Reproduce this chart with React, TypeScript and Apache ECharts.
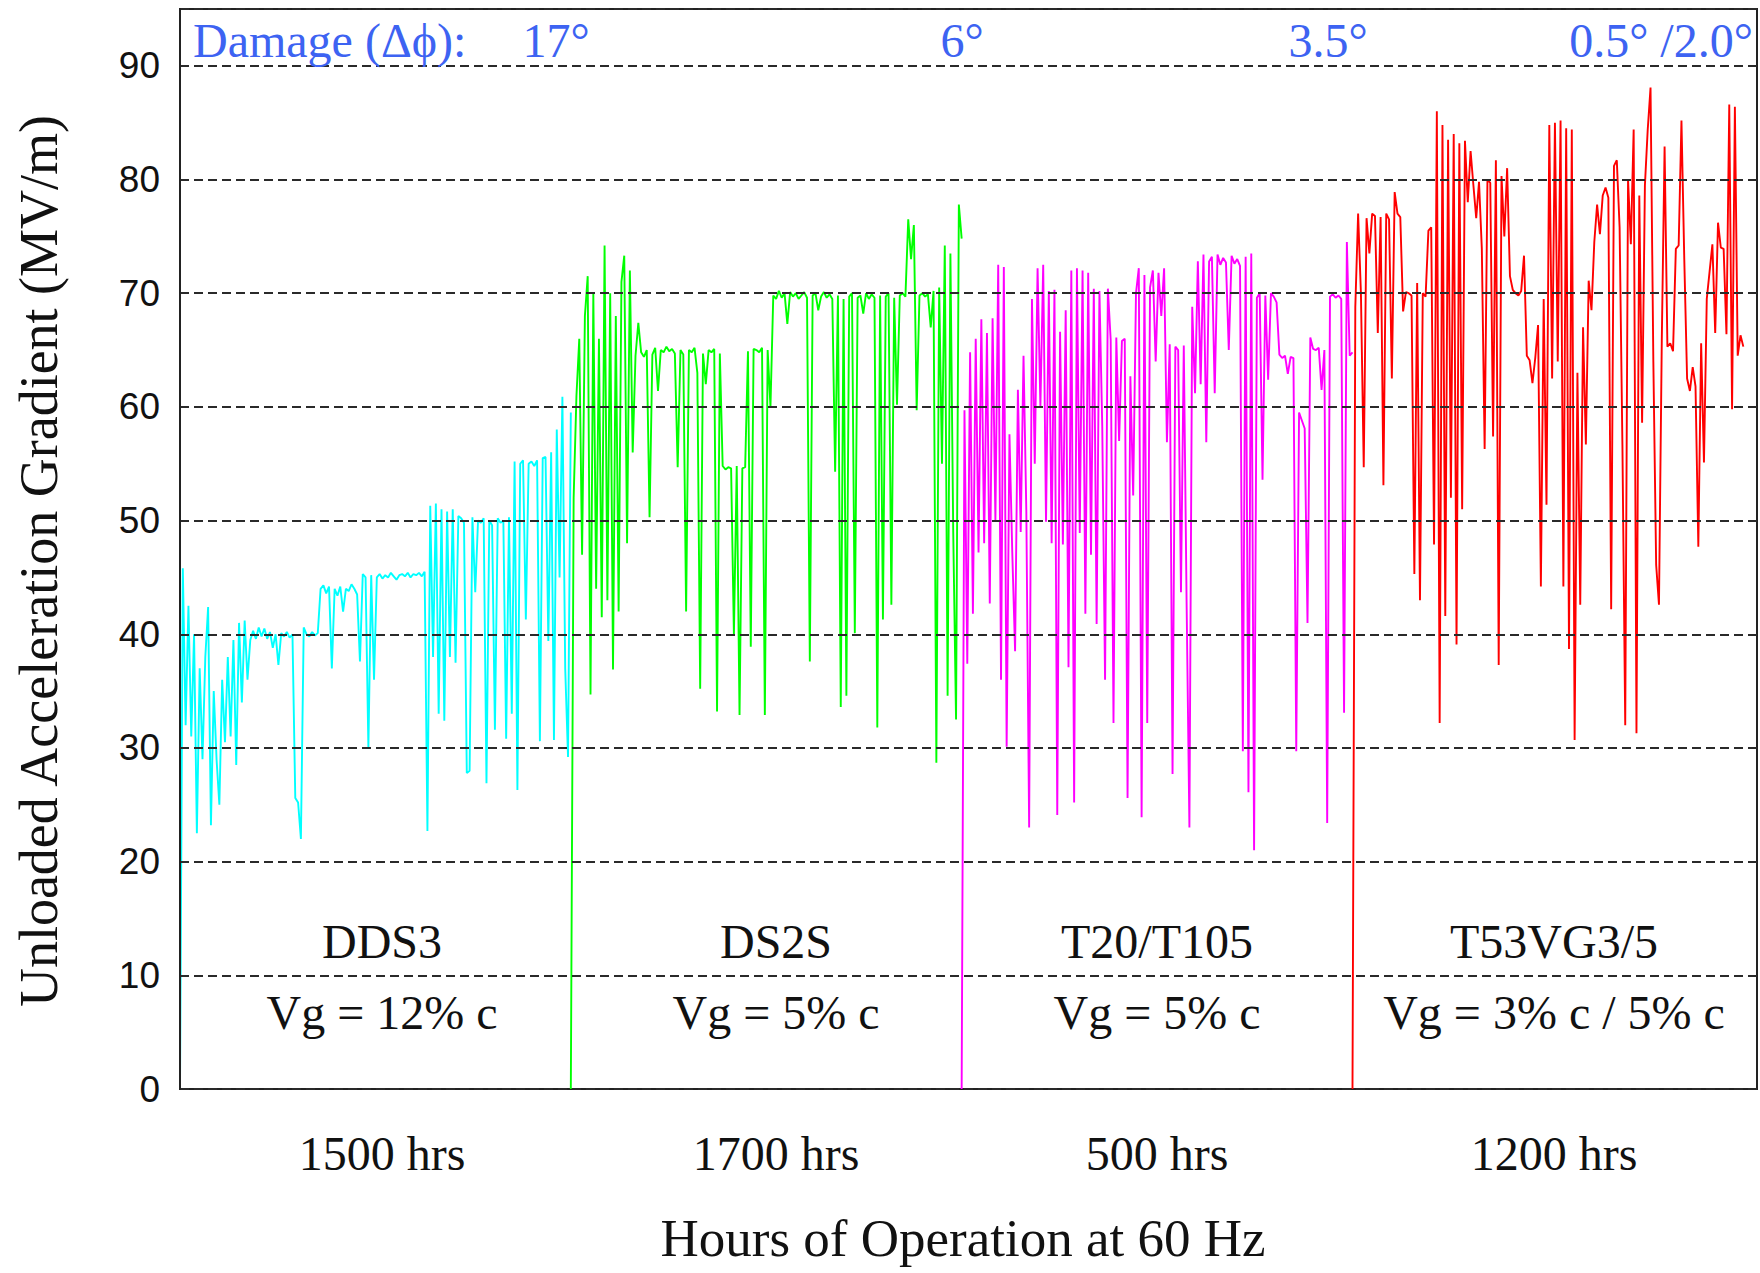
import React, { useEffect, useRef } from "react";
import * as echarts from "echarts";

// Unloaded gradient history, one sample per equal time step in each structure's run.
const DDS3_GRADIENT = [
  0, 45.8, 32, 42.5, 31, 40, 22.5, 37, 29, 38,
  42.4, 23.2, 35, 29, 25, 36, 30.5, 38, 31, 39.5,
  28.5, 41, 34, 41.2, 36, 39.5, 40.3, 39.6, 40.6, 39.8,
  40.5, 39.6, 40.2, 38.8, 40, 37.3, 40.1, 39.8, 40.2, 39.7,
  40, 25.6, 25.2, 22, 40.6, 40, 39.8, 40.2, 39.9, 40.1,
  44, 44.3, 43.6, 44.2, 37, 44, 43.4, 44.2, 42, 44,
  43.8, 44.4, 44, 43.5, 37.6, 45.3, 45, 30, 45.2, 36,
  45, 45.3, 44.9, 45.2, 45, 45.4, 45.1, 44.8, 45.2, 45.3,
  45.1, 45.4, 45, 45.3, 45.2, 45.4, 45.1, 45.5, 22.7, 51.3,
  38, 51.5, 33, 51, 32.4, 50.8, 38, 51, 37.5, 50.4,
  50.2, 49.8, 27.8, 28, 50.3, 43.7, 50, 49.8, 50.2, 26.9,
  50, 49.6, 31.6, 50.2, 49.8, 50, 30.8, 50.3, 33, 55.2,
  26.3, 55, 55.3, 41.3, 55, 55.2, 54.8, 55.3, 30.6, 55.5,
  55.6, 39.4, 56, 30.7, 58, 45, 60.9, 37, 29.2, 59.5,
];

const DS2S_GRADIENT = [
  0, 52, 61, 66, 47, 68, 71.5, 34.7, 70, 44,
  66, 41.5, 74.2, 43, 70, 36.9, 68, 42, 71, 73.3,
  48, 72, 56, 64.5, 67.4, 64.8, 64.4, 65, 50.3, 64.6,
  65.2, 61.4, 65, 64.8, 65.3, 64.9, 65.1, 64.7, 54.7, 65,
  64.6, 42, 65, 64.8, 65.2, 63, 35.2, 64.7, 62, 65,
  64.8, 65.1, 33.2, 64.7, 54.8, 54.5, 54.7, 54.6, 40, 54.8,
  32.9, 54.6, 54.7, 64.9, 38.9, 65.1, 65, 64.8, 65.2, 32.9,
  65, 60, 69.8, 69.5, 70.2, 69.6, 70, 67.3, 70.1, 69.7,
  70, 69.5, 69.8, 70.1, 69.6, 37.6, 69.8, 70, 68.5, 69.7,
  70.1, 69.6, 69.9, 69.5, 54.3, 69.8, 33.6, 69.5, 34.6, 69.7,
  70, 40.1, 69.6, 69.8, 68.2, 70, 69.5, 69.9, 69.6, 31.8,
  69.8, 41.3, 69.7, 70, 42.6, 69.6, 60.2, 69.8, 70, 69.7,
  76.5, 73, 76, 59.7, 69.8, 70, 69.7, 69.9, 67, 70.2,
  28.7, 70.5, 55, 74.2, 34.6, 73.5, 49, 32.5, 77.8, 74.8,
];

const T20_T105_GRADIENT = [
  0, 59.7, 37.4, 64.8, 41.8, 66, 47.2, 67.7, 48, 66.5,
  42.7, 67.8, 50, 72.5, 36, 72.3, 30.1, 57.6, 47.2, 38.5,
  61.5, 49, 64.5, 50.8, 23, 69.5, 55, 72.2, 60, 72.5,
  49.9, 70.2, 48, 70.3, 24.1, 66.6, 47.9, 68.5, 37.1, 72,
  25.2, 72.2, 48.9, 72, 41.8, 71.8, 47, 70.4, 40.9, 70.2,
  58.3, 36, 70.4, 65.9, 32.2, 66.1, 57, 65.8, 66, 25.6,
  62.7, 52.2, 70, 72.2, 23.9, 71.6, 32.2, 70.5, 72, 64,
  71.8, 68, 72.2, 56.9, 65.5, 27.7, 65.3, 65, 43.7, 65.4,
  42.8, 23, 68.8, 61.2, 72.8, 62, 73.4, 56.9, 72.8, 73.2,
  61.2, 73.4, 72.5, 73.1, 72.7, 65, 73.3, 72.6, 73, 72.4,
  29.7, 73.2, 26.1, 73.5, 21, 69.6, 70, 53.6, 69.8, 62.4,
  70, 69.7, 69.2, 64.6, 64.3, 64.5, 62.9, 64.4, 64.3, 29.7,
  59.5, 58.8, 58.1, 41, 66.1, 65.1, 65, 65.2, 61.5, 65,
  23.4, 69.7, 69.9, 69.6, 69.8, 69.5, 33.1, 74.5, 64.5, 64.8,
];

const T53VG3_5_GRADIENT = [
  0, 68.8, 77, 70, 54.7, 76.6, 73.5, 77, 76.8, 66.5,
  76.7, 53.1, 77, 76.5, 62.5, 78.9, 77, 76.7, 68.4, 70.1,
  70, 69.8, 45.3, 70.9, 43, 70, 69.7, 75.5, 75.8, 47.9,
  86, 32.2, 84.8, 41.6, 83.5, 52, 84, 39.1, 83.2, 51,
  83.4, 78, 82.5, 79.5, 76.6, 79.8, 73.9, 56.3, 80, 79.7,
  57.4, 81.7, 37.3, 80.3, 75, 81, 71.5, 70.3, 70, 69.8,
  70.2, 73.3, 64.5, 64.1, 62.1, 64.3, 67.2, 44.2, 69.5, 51.4,
  84.8, 62.5, 85, 64, 85.2, 44.2, 84.5, 38.7, 84.4, 30.7,
  63, 42.6, 67, 56.7, 71.1, 68.5, 74.5, 77.8, 75.2, 78.6,
  79.3, 78.4, 42.2, 81.2, 81.7, 75.8, 56.7, 32, 80, 74.3,
  84.4, 31.3, 78.6, 58.6, 79.5, 84.4, 88.1, 64, 46.1, 42.6,
  65.8, 82.9, 65.3, 65.6, 64.9, 73.9, 74.2, 85.2, 73, 62.5,
  61.4, 63.5, 61.8, 47.7, 65.6, 55.1, 69.5, 71.9, 74.3, 66.5,
  76.2, 74, 73.9, 66.4, 86.6, 59.8, 86.4, 64.5, 66.3, 65.3,
];

const STRUCTURES = ["DDS3", "DS2S", "T20/T105", "T53VG3/5"];
const GROUP_VELOCITIES = ["Vg = 12% c", "Vg = 5% c", "Vg = 5% c", "Vg = 3% c / 5% c"];
const HOURS_RUN = ["1500 hrs", "1700 hrs", "500 hrs", "1200 hrs"];
const DAMAGE_PHASE = ["17°", "6°", "3.5°", "0.5° /2.0°"];
const TRACE_COLORS = ["#00ffff", "#00ff00", "#ff00ff", "#ff0000"];

const SERIF = '"Liberation Serif", "Times New Roman", serif';
const SANS = '"Liberation Sans", Arial, sans-serif';
const BLUE = "#3d63f2";
const INK = "#111111";

// Each structure's run occupies one unit of the x axis.
function runPoints(values: number[], start: number): number[][] {
  const last = values.length - 1;
  return values.map((v, i) => [start + i / last, v]);
}

function centeredText(x: number, y: number, text: string, size: number, fill = INK, font = SERIF) {
  return {
    type: "text",
    x,
    y,
    silent: true,
    z: 10,
    style: {
      text,
      fill,
      font: `${size}px ${font}`,
      textAlign: "center",
      textVerticalAlign: "middle",
    },
  };
}

export default function App() {
  const ref = useRef<HTMLDivElement>(null);

  useEffect(() => {
    document.body.style.margin = "0";
    if (!ref.current) return;
    const chart = echarts.init(ref.current, undefined, { renderer: "svg" });

    const runs = [DDS3_GRADIENT, DS2S_GRADIENT, T20_T105_GRADIENT, T53VG3_5_GRADIENT];
    const sectionX = [382, 776, 1157, 1554];
    const damageX = [556, 962, 1328, 1661];

    const graphic: any[] = [];
    STRUCTURES.forEach((name, k) => {
      graphic.push(centeredText(sectionX[k], 941, name, 48));
      graphic.push(centeredText(sectionX[k], 1012, GROUP_VELOCITIES[k], 48));
      graphic.push(centeredText(sectionX[k], 1153, HOURS_RUN[k], 48));
      graphic.push(centeredText(damageX[k], 40, DAMAGE_PHASE[k], 48, BLUE));
    });
    graphic.push({
      type: "text",
      x: 193,
      y: 40,
      silent: true,
      z: 10,
      style: {
        text: "Damage (Δϕ):",
        fill: BLUE,
        font: `48px ${SERIF}`,
        textAlign: "left",
        textVerticalAlign: "middle",
      },
    });
    graphic.push(centeredText(963, 1238, "Hours of Operation at 60 Hz", 53));
    graphic.push({
      type: "text",
      x: 39,
      y: 561,
      rotation: Math.PI / 2,
      silent: true,
      z: 10,
      style: {
        text: "Unloaded Acceleration Gradient (MV/m)",
        fill: INK,
        font: `54px ${SERIF}`,
        textAlign: "center",
        textVerticalAlign: "middle",
      },
    });

    chart.setOption({
      animation: false,
      backgroundColor: "#ffffff",
      grid: {
        left: 180,
        right: 3,
        top: 9,
        bottom: 184,
        show: true,
        borderColor: "#222222",
        borderWidth: 2,
        backgroundColor: "transparent",
      },
      xAxis: {
        type: "value",
        min: 0,
        max: 4.035,
        axisLabel: { show: false },
        axisTick: { show: false },
        splitLine: { show: false },
        axisLine: { show: true, lineStyle: { color: "#222222", width: 2 } },
      },
      yAxis: {
        type: "value",
        min: 0,
        max: 95,
        interval: 10,
        z: 3,
        axisLabel: {
          fontFamily: SANS,
          fontSize: 37,
          color: INK,
          margin: 20,
          showMaxLabel: false,
          formatter: (v: number) => (v > 90 ? "" : String(v)),
        },
        axisTick: { show: false },
        axisLine: { show: true, lineStyle: { color: "#222222", width: 2 } },
        splitLine: {
          show: true,
          lineStyle: { color: "#2a2a2a", width: 2, type: [9, 5] },
        },
      },
      series: runs.map((values, k) => ({
        name: STRUCTURES[k],
        type: "line",
        data: runPoints(values, k),
        showSymbol: false,
        symbol: "none",
        silent: true,
        lineStyle: { color: TRACE_COLORS[k], width: 1.9 },
        itemStyle: { color: TRACE_COLORS[k] },
        z: 2,
      })),
      graphic,
    });

    return () => chart.dispose();
  }, []);

  return <div ref={ref} style={{ width: 1760, height: 1273 }} />;
}
